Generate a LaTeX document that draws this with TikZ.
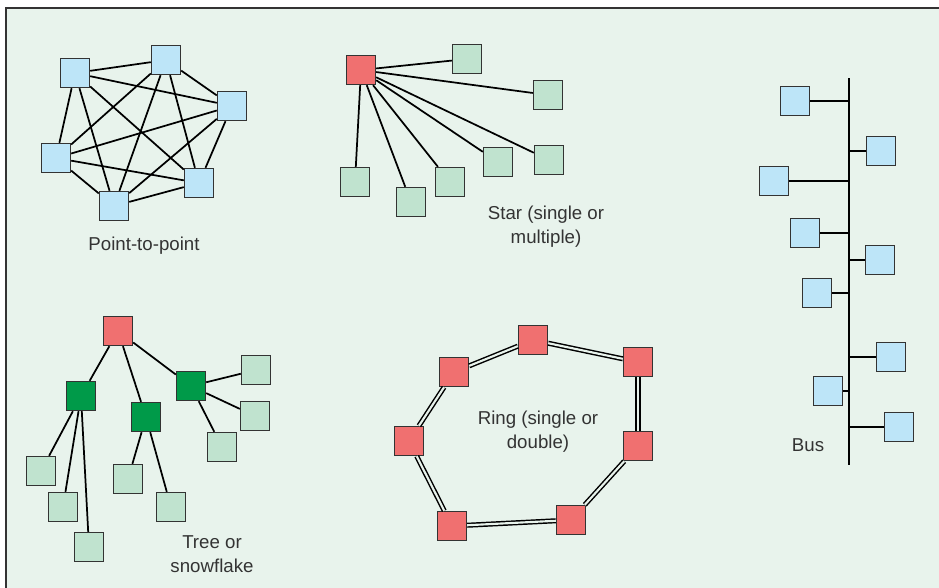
\documentclass[tikz,border=0pt]{standalone}
\usepackage{fontspec}
\setmainfont{Liberation Sans}
\definecolor{fondo}{HTML}{E8F3EC}
\definecolor{azulclaro}{HTML}{BDE5F8}
\definecolor{rojoclaro}{HTML}{F07070}
\definecolor{verdeclaro}{HTML}{C0E3CF}
\definecolor{verdeoscuro}{HTML}{009A49}
\definecolor{texto}{HTML}{333333}

\begin{document}
\begin{tikzpicture}[x=0.75pt, y=-0.75pt, font=\fontsize{14}{18}\selectfont,
    caja/.style={draw=black!80, line width=0.8pt, minimum size=22pt, inner sep=0pt},
    azul/.style={caja, fill=azulclaro},
    rojo/.style={caja, fill=rojoclaro},
    hoja/.style={caja, fill=verdeclaro},
    rama/.style={caja, fill=verdeoscuro},
    enlace/.style={line width=1.3pt},
    doble/.style={line width=1.1pt, double=fondo, double distance=1.6pt},
    rotulo/.style={align=center, text=texto}]

    \useasboundingbox (0,0) rectangle (939,587);

    % fondo del panel
    \fill[fondo] (6,8) rectangle (950,600);
    \draw[line width=1pt, black!80] (6,600) -- (6,8) -- (950,8);

    % punto a punto
    \node[azul] (pa) at (75,73) {};
    \node[azul] (pb) at (166,60) {};
    \node[azul] (pc) at (232,106) {};
    \node[azul] (pd) at (56,158) {};
    \node[azul] (pe) at (199,183) {};
    \node[azul] (pf) at (114,206) {};
    \draw[enlace] (pa) -- (pb) (pa) -- (pc) (pa) -- (pd) (pa) -- (pe) (pa) -- (pf);
    \draw[enlace] (pb) -- (pc) (pb) -- (pd) (pb) -- (pe) (pb) -- (pf);
    \draw[enlace] (pc) -- (pd) (pc) -- (pe) (pc) -- (pf);
    \draw[enlace] (pd) -- (pe) (pd) -- (pf) (pe) -- (pf);
    \node[rotulo] (tpunto) at (144,246) {Point-to-point};

    % estrella
    \node[rojo] (centro) at (361,70) {};
    \node[hoja] (e1) at (467,59) {};
    \node[hoja] (e2) at (548,95) {};
    \node[hoja] (e3) at (549,160) {};
    \node[hoja] (e4) at (498,162) {};
    \node[hoja] (e5) at (450,182) {};
    \node[hoja] (e6) at (411,202) {};
    \node[hoja] (e7) at (355,182) {};
    \draw[enlace] (centro) -- (e1) (centro) -- (e2) (centro) -- (e3) (centro) -- (e4);
    \draw[enlace] (centro) -- (e5) (centro) -- (e6) (centro) -- (e7);
    \node[rotulo] (testrella) at (546,227) {Star (single or\\multiple)};

    % bus
    \coordinate (busarriba) at (849,78);
    \coordinate (busabajo) at (849,465);
    \draw[enlace] (busarriba) -- (busabajo);
    \node[azul] (b1) at (795,101) {};
    \node[azul] (b2) at (881,151) {};
    \node[azul] (b3) at (774,181) {};
    \node[azul] (b4) at (805,233) {};
    \node[azul] (b5) at (880,260) {};
    \node[azul] (b6) at (817,293) {};
    \node[azul] (b7) at (891,357) {};
    \node[azul] (b8) at (828,391) {};
    \node[azul] (b9) at (899,427) {};
    \draw[enlace] (b1.east) -- (b1.east -| busarriba);
    \draw[enlace] (b3.east) -- (b3.east -| busarriba);
    \draw[enlace] (b4.east) -- (b4.east -| busarriba);
    \draw[enlace] (b6.east) -- (b6.east -| busarriba);
    \draw[enlace] (b8.east) -- (b8.east -| busarriba);
    \draw[enlace] (b2.west) -- (b2.west -| busarriba);
    \draw[enlace] (b5.west) -- (b5.west -| busarriba);
    \draw[enlace] (b7.west) -- (b7.west -| busarriba);
    \draw[enlace] (b9.west) -- (b9.west -| busarriba);
    \node[rotulo] (tbus) at (808,445) {Bus};

    % arbol
    \node[rojo] (raiz) at (118,331) {};
    \node[rama] (r1) at (81,396) {};
    \node[rama] (r2) at (146,417) {};
    \node[rama] (r3) at (191,386) {};
    \node[hoja] (h1) at (41,471) {};
    \node[hoja] (h2) at (63,507) {};
    \node[hoja] (h3) at (89,547) {};
    \node[hoja] (h4) at (128,479) {};
    \node[hoja] (h5) at (171,507) {};
    \node[hoja] (h6) at (256,370) {};
    \node[hoja] (h7) at (255,416) {};
    \node[hoja] (h8) at (222,447) {};
    \draw[enlace] (raiz) -- (r1) (raiz) -- (r2) (raiz) -- (r3);
    \draw[enlace] (r1) -- (h1) (r1) -- (h2) (r1) -- (h3);
    \draw[enlace] (r2) -- (h4) (r2) -- (h5);
    \draw[enlace] (r3) -- (h6) (r3) -- (h7) (r3) -- (h8);
    \node[rotulo] (tarbol) at (212,554) {Tree or\\snowflake};

    % anillo
    \node[rojo] (a1) at (533,340) {};
    \node[rojo] (a2) at (638,362) {};
    \node[rojo] (a3) at (638,446) {};
    \node[rojo] (a4) at (571,520) {};
    \node[rojo] (a5) at (452,526) {};
    \node[rojo] (a6) at (409,441) {};
    \node[rojo] (a7) at (454,372) {};
    \draw[doble] (a1) -- (a2);
    \draw[doble] (a2) -- (a3);
    \draw[doble] (a3) -- (a4);
    \draw[doble] (a4) -- (a5);
    \draw[doble] (a5) -- (a6);
    \draw[doble] (a6) -- (a7);
    \draw[doble] (a7) -- (a1);
    \node[rotulo] (tanillo) at (538,432) {Ring (single or\\double)};

\end{tikzpicture}
\end{document}
